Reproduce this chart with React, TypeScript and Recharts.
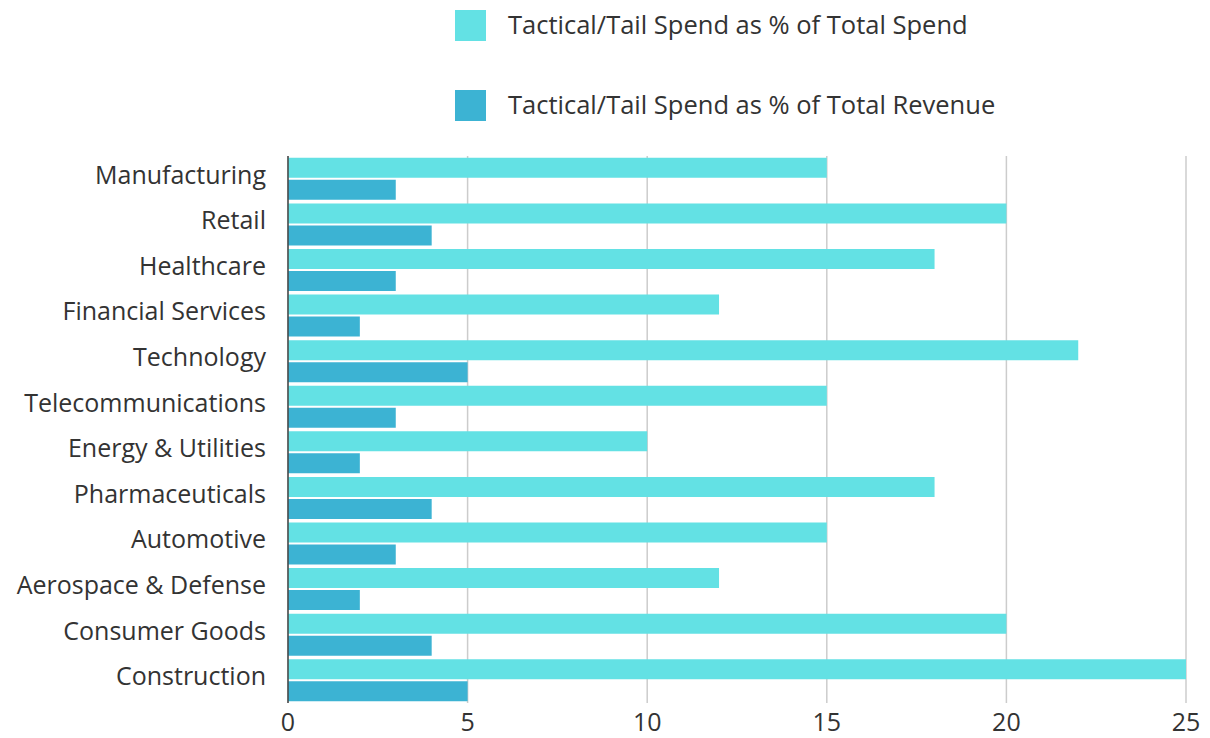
import React from "react";
import { BarChart, Bar, XAxis, YAxis, CartesianGrid, Legend } from "recharts";

const categories = [
  "Manufacturing",
  "Retail",
  "Healthcare",
  "Financial Services",
  "Technology",
  "Telecommunications",
  "Energy & Utilities",
  "Pharmaceuticals",
  "Automotive",
  "Aerospace & Defense",
  "Consumer Goods",
  "Construction",
];

const spendShare = [15, 20, 18, 12, 22, 15, 10, 18, 15, 12, 20, 25];
const revenueShare = [3, 4, 3, 2, 5, 3, 2, 4, 3, 2, 4, 5];
const xTicks = [0, 5, 10, 15, 20, 25];

const SPEND_LABEL = "Tactical/Tail Spend as % of Total Spend";
const REVENUE_LABEL = "Tactical/Tail Spend as % of Total Revenue";
const legendOrder = ["spend", "revenue"];

const LIGHT = "#63e1e4";
const DARK = "#3cb3d3";
const FONT = "'Open Sans', sans-serif";

const data = categories.map((name, i) => ({
  name,
  spend: spendShare[i],
  revenue: revenueShare[i],
}));

function LegendBlock({ payload }: any) {
  const items = legendOrder
    .map((key) => (payload || []).find((p: any) => p.dataKey === key))
    .filter(Boolean);
  return (
    <div style={{ fontFamily: FONT }}>
      {items.map((item: any, i: number) => (
        <div
          key={item.value}
          style={{
            display: "flex",
            alignItems: "center",
            height: 31,
            marginBottom: i === 0 ? 49 : 0,
          }}
        >
          <span
            style={{
              width: 31,
              height: 31,
              background: item.color,
              display: "inline-block",
              marginRight: 22,
            }}
          />
          <span style={{ fontSize: 25.5, color: "#333", marginTop: -4 }}>{item.value}</span>
        </div>
      ))}
    </div>
  );
}

export default function App() {
  return (
    <div style={{ position: "absolute", top: 0, left: 0, background: "#fff" }}>
      <BarChart
        width={1210}
        height={738}
        data={data}
        layout="vertical"
        margin={{ top: 156, right: 24, bottom: 5, left: 0 }}
        barCategoryGap="4%"
        barGap={2}
      >
        <CartesianGrid horizontal={false} stroke="#cccccc" strokeWidth={1.5} />
        <XAxis
          type="number"
          domain={[0, 25]}
          ticks={xTicks}
          axisLine={false}
          tickLine={false}
          height={30}
          tickMargin={4}
          tick={{ fontSize: 25, fill: "#333", fontFamily: FONT }}
        />
        <YAxis
          type="category"
          dataKey="name"
          width={288}
          axisLine={{ stroke: "#444", strokeWidth: 1.5 }}
          tickLine={false}
          tickMargin={16}
          interval={0}
          tick={{ fontSize: 25, fill: "#333", fontFamily: FONT, dy: -4 }}
        />
        <Legend
          layout="vertical"
          align="center"
          verticalAlign="middle"
          content={<LegendBlock />}
          wrapperStyle={{ top: 10, left: 455, width: 640 }}
        />
        <Bar dataKey="spend" name={SPEND_LABEL} fill={LIGHT} isAnimationActive={false} />
        <Bar dataKey="revenue" name={REVENUE_LABEL} fill={DARK} isAnimationActive={false} />
      </BarChart>
    </div>
  );
}
